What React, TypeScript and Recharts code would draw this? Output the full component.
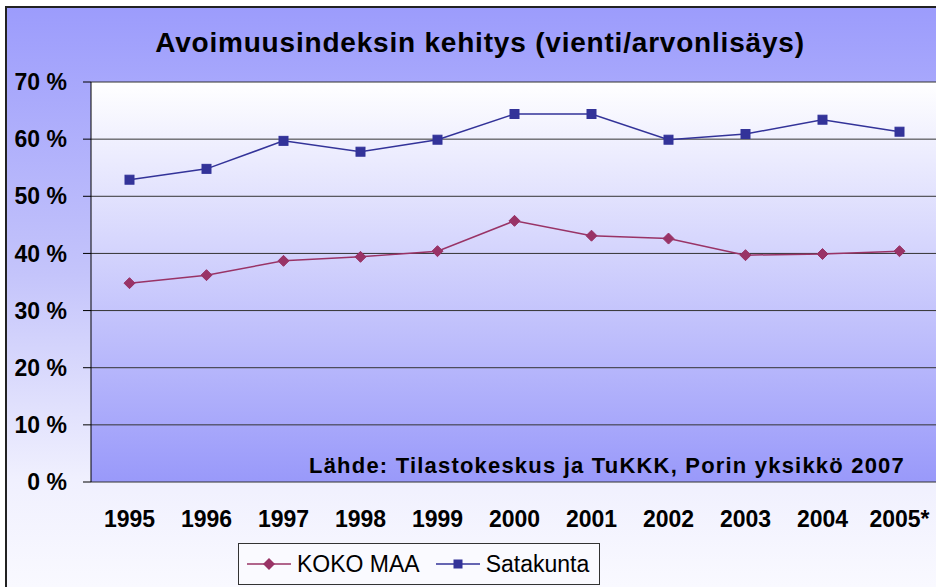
import React from "react";
import { LineChart, Line, XAxis, YAxis, CartesianGrid, Legend } from "recharts";

const years = ["1995", "1996", "1997", "1998", "1999", "2000", "2001", "2002", "2003", "2004", "2005*"];
const kokoMaa = [34.8, 36.2, 38.7, 39.4, 40.4, 45.7, 43.1, 42.6, 39.7, 39.9, 40.4];
const satakunta = [52.9, 54.8, 59.7, 57.8, 59.9, 64.4, 64.4, 59.9, 60.9, 63.4, 61.3];
const yTicks = [0, 10, 20, 30, 40, 50, 60, 70];
const bandTicks = [0, 1, 2, 3, 4, 5, 6, 7, 8, 9, 10, 11];

const data = years.map((year, i) => ({
  pos: i + 0.5,
  year,
  koko: kokoMaa[i],
  sata: satakunta[i],
}));

const KOKO_COLOR = "#993366";
const SATA_COLOR = "#333399";
const FONT = "'Liberation Sans', Arial, sans-serif";

function Diamond(props: any) {
  const { cx, cy, stroke } = props;
  if (cx == null || cy == null) return null;
  const r = 5.5;
  return (
    <polygon
      key={`d-${cx}`}
      points={`${cx},${cy - r} ${cx + r},${cy} ${cx},${cy + r} ${cx - r},${cy}`}
      fill={stroke}
      stroke={stroke}
    />
  );
}

function Square(props: any) {
  const { cx, cy, stroke } = props;
  if (cx == null || cy == null) return null;
  const s = 9;
  return <rect key={`s-${cx}`} x={cx - s / 2} y={cy - s / 2} width={s} height={s} fill={stroke} stroke={stroke} />;
}

function LegendBox() {
  return (
    <div
      style={{
        display: "flex",
        alignItems: "center",
        border: "1px solid #333",
        background: "#fafaff",
        padding: "4px 10px 4px 8px",
        fontFamily: FONT,
        fontSize: 23,
        color: "#000",
        height: 32,
        boxSizing: "content-box",
      }}
    >
      <svg width={44} height={14} style={{ marginRight: 6 }}>
        <line x1={0} y1={7} x2={44} y2={7} stroke={KOKO_COLOR} strokeWidth={1.5} />
        <polygon points="22,1 28,7 22,13 16,7" fill={KOKO_COLOR} />
      </svg>
      <span style={{ marginRight: 16 }}>KOKO MAA</span>
      <svg width={44} height={14} style={{ marginRight: 6 }}>
        <line x1={0} y1={7} x2={44} y2={7} stroke={SATA_COLOR} strokeWidth={1.5} />
        <rect x={17.5} y={2.5} width={9} height={9} fill={SATA_COLOR} />
      </svg>
      <span>Satakunta</span>
    </div>
  );
}

export default function App() {
  return (
    <div
      style={{
        position: "absolute",
        left: 0,
        top: 0,
        width: 936,
        height: 587,
        overflow: "hidden",
        background: "#fff",
      }}
    >
      <div
        style={{
          position: "absolute",
          left: 5,
          top: 6,
          width: 940,
          height: 590,
          borderLeft: "2px solid #222",
          borderTop: "2px solid #222",
          background: "linear-gradient(to bottom, #9c9cfc 0%, #c4c4fb 45%, #f0f0fe 80%, #fafaff 100%)",
        }}
      />
      <div
        style={{
          position: "absolute",
          left: 0,
          width: 936,
          top: 27,
          textAlign: "center",
          paddingLeft: 12,
          fontFamily: FONT,
          fontWeight: "bold",
          fontSize: 28,
          letterSpacing: 0.8,
          color: "#000",
        }}
      >
        Avoimuusindeksin kehitys (vienti/arvonlisäys)
      </div>
      <div style={{ position: "absolute", left: 0, top: 0 }}>
        <LineChart width={938} height={587} data={data} margin={{ top: 82, right: 0, bottom: 45, left: 0 }}>
          <defs>
            <linearGradient id="plotBg" x1="0" y1="0" x2="0" y2="1">
              <stop offset="0%" stopColor="#ffffff" />
              <stop offset="100%" stopColor="#9999fa" />
            </linearGradient>
          </defs>
          <CartesianGrid horizontal vertical={false} stroke="#333" fill="url(#plotBg)" fillOpacity={1} />
          <XAxis
            xAxisId="band"
            type="number"
            dataKey="pos"
            domain={[0, 11]}
            ticks={bandTicks}
            height={0}
            tick={false}
            tickSize={8}
            axisLine={{ stroke: "#000" }}
            tickLine={{ stroke: "#000" }}
            allowDataOverflow
          />
          <XAxis
            xAxisId="label"
            type="number"
            dataKey="pos"
            domain={[0, 11]}
            ticks={data.map((d) => d.pos)}
            tickFormatter={(v: number) => years[Math.floor(v)] ?? ""}
            height={60}
            axisLine={false}
            tickLine={false}
            tickSize={0}
            tickMargin={29}
            tick={{ fill: "#000", fontSize: 23, fontWeight: "bold", fontFamily: FONT }}
            interval={0}
            allowDataOverflow
          />
          <YAxis
            type="number"
            domain={[0, 70]}
            ticks={yTicks}
            width={91}
            tickSize={8}
            tickMargin={16}
            tickFormatter={(v: number) => `${v} %`}
            axisLine={{ stroke: "#000" }}
            tickLine={{ stroke: "#000" }}
            tick={{ fill: "#000", fontSize: 23, fontWeight: "bold", fontFamily: FONT }}
            interval={0}
          />
          <Line
            xAxisId="label"
            dataKey="koko"
            name="KOKO MAA"
            stroke={KOKO_COLOR}
            strokeWidth={1.5}
            dot={<Diamond />}
            isAnimationActive={false}
          />
          <Line
            xAxisId="label"
            dataKey="sata"
            name="Satakunta"
            stroke={SATA_COLOR}
            strokeWidth={1.5}
            dot={<Square />}
            isAnimationActive={false}
          />
          <Legend
            layout="horizontal"
            verticalAlign="middle"
            align="center"
            wrapperStyle={{ left: 238, top: 543, width: "auto", height: "auto" }}
            content={() => <LegendBox />}
          />
        </LineChart>
      </div>
      <div
        style={{
          position: "absolute",
          right: 31,
          top: 453,
          fontFamily: FONT,
          fontWeight: "bold",
          fontSize: 22,
          letterSpacing: 1.2,
          color: "#000",
          whiteSpace: "nowrap",
        }}
      >
        Lähde: Tilastokeskus ja TuKKK, Porin yksikkö 2007
      </div>
    </div>
  );
}
